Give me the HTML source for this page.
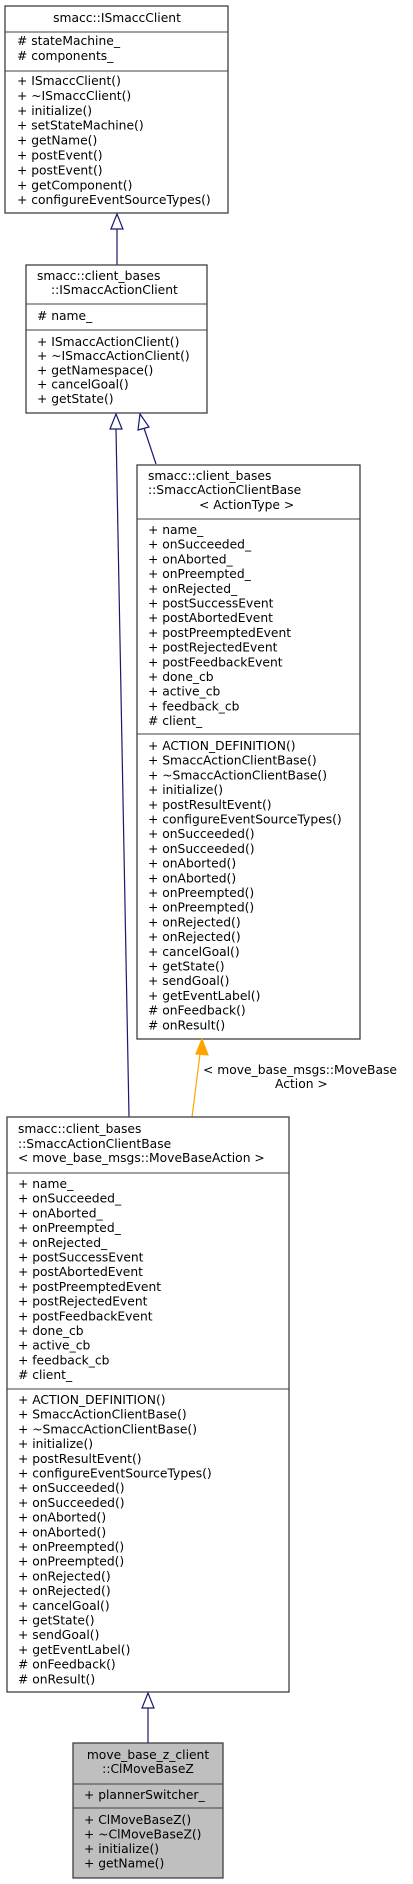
<!DOCTYPE html>
<html><head><meta charset="utf-8"><style>
html,body{margin:0;padding:0;background:#fff}
svg{display:block}
text{font-family:"DejaVu Sans","Liberation Sans",sans-serif;font-size:12.3px;fill:#000}
.b{fill:#fff;stroke:#404040;stroke-width:1.3}
.g{fill:#bfbfbf;stroke:#404040;stroke-width:1.3}
.s{stroke:#404040;stroke-width:1}
</style></head><body>
<svg width="413" height="1884" viewBox="0 0 413 1884" xmlns="http://www.w3.org/2000/svg">
<!-- Box1 -->
<rect class="b" x="5" y="6" width="223" height="207"/>
<line class="s" x1="5" y1="32" x2="228" y2="32"/>
<line class="s" x1="5" y1="71" x2="228" y2="71"/>
<text x="117" y="22" text-anchor="middle">smacc::ISmaccClient</text>
<text x="17" y="45"># stateMachine_</text>
<text x="17" y="60"># components_</text>
<text x="17" y="85"><tspan x="17">+ ISmaccClient()</tspan><tspan x="17" dy="14.9">+ ~ISmaccClient()</tspan><tspan x="17" dy="14.9">+ initialize()</tspan><tspan x="17" dy="14.9">+ setStateMachine()</tspan><tspan x="17" dy="14.9">+ getName()</tspan><tspan x="17" dy="14.9">+ postEvent()</tspan><tspan x="17" dy="14.9">+ postEvent()</tspan><tspan x="17" dy="14.9">+ getComponent()</tspan><tspan x="17" dy="14.9">+ configureEventSourceTypes()</tspan></text>
<!-- arrow 1 -->
<line x1="117" y1="228" x2="117" y2="265" stroke="#191970" stroke-width="1.2"/>
<polygon points="117,214 111,229 123,229" fill="#fff" stroke="#191970" stroke-width="1.2"/>
<!-- Box2 -->
<rect class="b" x="26" y="265" width="181" height="148"/>
<line class="s" x1="26" y1="304" x2="207" y2="304"/>
<line class="s" x1="26" y1="330" x2="207" y2="330"/>
<text x="37" y="280">smacc::client_bases</text>
<text x="51" y="294">::ISmaccActionClient</text>
<text x="37" y="320"># name_</text>
<text x="37" y="346"><tspan x="37">+ ISmaccActionClient()</tspan><tspan x="37" dy="14.2">+ ~ISmaccActionClient()</tspan><tspan x="37" dy="14.2">+ getNamespace()</tspan><tspan x="37" dy="14.2">+ cancelGoal()</tspan><tspan x="37" dy="14.2">+ getState()</tspan></text>
<!-- arrows from box2 -->
<line x1="116" y1="429" x2="129" y2="1117" stroke="#191970" stroke-width="1.2"/>
<polygon points="116,414 110,429 122,429" fill="#fff" stroke="#191970" stroke-width="1.2"/>
<line x1="144" y1="428" x2="156" y2="464" stroke="#191970" stroke-width="1.2"/>
<polygon points="140,414 138,430 149,427" fill="#fff" stroke="#191970" stroke-width="1.2"/>
<!-- Box3 -->
<rect class="b" x="137" y="465" width="223" height="574"/>
<line class="s" x1="137" y1="519" x2="360" y2="519"/>
<line class="s" x1="137" y1="734" x2="360" y2="734"/>
<text x="148" y="480">smacc::client_bases</text>
<text x="148" y="494">::SmaccActionClientBase</text>
<text x="199" y="509">&lt; ActionType &gt;</text>
<text x="148" y="534"><tspan x="148">+ name_</tspan><tspan x="148" dy="14.7">+ onSucceeded_</tspan><tspan x="148" dy="14.7">+ onAborted_</tspan><tspan x="148" dy="14.7">+ onPreempted_</tspan><tspan x="148" dy="14.7">+ onRejected_</tspan><tspan x="148" dy="14.7">+ postSuccessEvent</tspan><tspan x="148" dy="14.7">+ postAbortedEvent</tspan><tspan x="148" dy="14.7">+ postPreemptedEvent</tspan><tspan x="148" dy="14.7">+ postRejectedEvent</tspan><tspan x="148" dy="14.7">+ postFeedbackEvent</tspan><tspan x="148" dy="14.7">+ done_cb</tspan><tspan x="148" dy="14.7">+ active_cb</tspan><tspan x="148" dy="14.7">+ feedback_cb</tspan><tspan x="148" dy="14.7"># client_</tspan></text>
<text x="148" y="750"><tspan x="148">+ ACTION_DEFINITION()</tspan><tspan x="148" dy="14.7">+ SmaccActionClientBase()</tspan><tspan x="148" dy="14.7">+ ~SmaccActionClientBase()</tspan><tspan x="148" dy="14.7">+ initialize()</tspan><tspan x="148" dy="14.7">+ postResultEvent()</tspan><tspan x="148" dy="14.7">+ configureEventSourceTypes()</tspan><tspan x="148" dy="14.7">+ onSucceeded()</tspan><tspan x="148" dy="14.7">+ onSucceeded()</tspan><tspan x="148" dy="14.7">+ onAborted()</tspan><tspan x="148" dy="14.7">+ onAborted()</tspan><tspan x="148" dy="14.7">+ onPreempted()</tspan><tspan x="148" dy="14.7">+ onPreempted()</tspan><tspan x="148" dy="14.7">+ onRejected()</tspan><tspan x="148" dy="14.7">+ onRejected()</tspan><tspan x="148" dy="14.7">+ cancelGoal()</tspan><tspan x="148" dy="14.7">+ getState()</tspan><tspan x="148" dy="14.7">+ sendGoal()</tspan><tspan x="148" dy="14.7">+ getEventLabel()</tspan><tspan x="148" dy="14.7"># onFeedback()</tspan><tspan x="148" dy="14.7"># onResult()</tspan></text>
<!-- orange arrow -->
<line x1="192" y1="1117" x2="200" y2="1054" stroke="#ffa500" stroke-width="1.2"/>
<polygon points="202,1039 196,1054 208,1055" fill="#ffa500" stroke="#ffa500" stroke-width="1.2"/>
<text x="203" y="1074">&lt; move_base_msgs::MoveBase</text>
<text x="275" y="1088">Action &gt;</text>
<!-- Box4 -->
<rect class="b" x="7" y="1117" width="282" height="575"/>
<line class="s" x1="7" y1="1173" x2="289" y2="1173"/>
<line class="s" x1="7" y1="1389" x2="289" y2="1389"/>
<text x="18" y="1133">smacc::client_bases</text>
<text x="18" y="1148">::SmaccActionClientBase</text>
<text x="18" y="1162">&lt; move_base_msgs::MoveBaseAction &gt;</text>
<text x="18" y="1188"><tspan x="18">+ name_</tspan><tspan x="18" dy="14.7">+ onSucceeded_</tspan><tspan x="18" dy="14.7">+ onAborted_</tspan><tspan x="18" dy="14.7">+ onPreempted_</tspan><tspan x="18" dy="14.7">+ onRejected_</tspan><tspan x="18" dy="14.7">+ postSuccessEvent</tspan><tspan x="18" dy="14.7">+ postAbortedEvent</tspan><tspan x="18" dy="14.7">+ postPreemptedEvent</tspan><tspan x="18" dy="14.7">+ postRejectedEvent</tspan><tspan x="18" dy="14.7">+ postFeedbackEvent</tspan><tspan x="18" dy="14.7">+ done_cb</tspan><tspan x="18" dy="14.7">+ active_cb</tspan><tspan x="18" dy="14.7">+ feedback_cb</tspan><tspan x="18" dy="14.7"># client_</tspan></text>
<text x="18" y="1404"><tspan x="18">+ ACTION_DEFINITION()</tspan><tspan x="18" dy="14.7">+ SmaccActionClientBase()</tspan><tspan x="18" dy="14.7">+ ~SmaccActionClientBase()</tspan><tspan x="18" dy="14.7">+ initialize()</tspan><tspan x="18" dy="14.7">+ postResultEvent()</tspan><tspan x="18" dy="14.7">+ configureEventSourceTypes()</tspan><tspan x="18" dy="14.7">+ onSucceeded()</tspan><tspan x="18" dy="14.7">+ onSucceeded()</tspan><tspan x="18" dy="14.7">+ onAborted()</tspan><tspan x="18" dy="14.7">+ onAborted()</tspan><tspan x="18" dy="14.7">+ onPreempted()</tspan><tspan x="18" dy="14.7">+ onPreempted()</tspan><tspan x="18" dy="14.7">+ onRejected()</tspan><tspan x="18" dy="14.7">+ onRejected()</tspan><tspan x="18" dy="14.7">+ cancelGoal()</tspan><tspan x="18" dy="14.7">+ getState()</tspan><tspan x="18" dy="14.7">+ sendGoal()</tspan><tspan x="18" dy="14.7">+ getEventLabel()</tspan><tspan x="18" dy="14.7"># onFeedback()</tspan><tspan x="18" dy="14.7"># onResult()</tspan></text>
<!-- arrow to box5 -->
<line x1="148" y1="1708" x2="148" y2="1743" stroke="#191970" stroke-width="1.2"/>
<polygon points="148,1693 142,1708 154,1708" fill="#fff" stroke="#191970" stroke-width="1.2"/>
<!-- Box5 -->
<rect class="g" x="73" y="1743" width="150" height="135"/>
<line class="s" x1="73" y1="1784" x2="223" y2="1784"/>
<line class="s" x1="73" y1="1808" x2="223" y2="1808"/>
<text x="148" y="1759" text-anchor="middle">move_base_z_client</text>
<text x="148" y="1773" text-anchor="middle">::ClMoveBaseZ</text>
<text x="84" y="1799">+ plannerSwitcher_</text>
<text x="84" y="1824"><tspan x="84">+ ClMoveBaseZ()</tspan><tspan x="84" dy="14.5">+ ~ClMoveBaseZ()</tspan><tspan x="84" dy="14.5">+ initialize()</tspan><tspan x="84" dy="14.5">+ getName()</tspan></text>
</svg>
</body></html>
